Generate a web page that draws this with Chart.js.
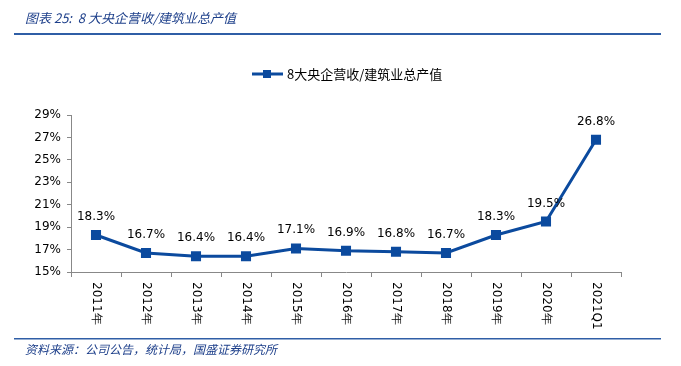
<!DOCTYPE html>
<html>
<head>
<meta charset="utf-8">
<script src="https://cdn.jsdelivr.net/npm/chart.js@4.4.1/dist/chart.umd.min.js"></script>
<style>
  html, body { margin: 0; padding: 0; background: #fff; }
  #wrap { position: relative; width: 681px; height: 366px; }
</style>
</head>
<body>
<div id="wrap"><canvas id="c" width="681" height="366"></canvas></div>
<script>
// 数据
const categories = ['2011年', '2012年', '2013年', '2014年', '2015年', '2016年', '2017年', '2018年', '2019年', '2020年', '2021Q1'];
const ratioValues = [18.3, 16.7, 16.4, 16.4, 17.1, 16.9, 16.8, 16.7, 18.3, 19.5, 26.8];
const seriesName = '8大央企营收/建筑业总产值';
const yTicks = [15, 17, 19, 21, 23, 25, 27, 29];
const titleText = '图表 25:  8 大央企营收/建筑业总产值';
const sourceText = '资料来源：公司公告，统计局，国盛证券研究所';

const blue = '#0b4a9e';
const font = '"DejaVu Sans", Verdana, sans-serif';

// 标题、图例、数据标签、竖排x轴标签
const decorations = {
  id: 'decorations',
  afterDraw(chart) {
    const ctx = chart.ctx;
    const xs = chart.scales.x;
    const ys = chart.scales.y;
    ctx.save();

    // 标题
    ctx.fillStyle = '#1d3f8a';
    ctx.font = 'italic 13px "Noto Sans CJK SC", sans-serif';
    ctx.textBaseline = 'middle';
    ctx.textAlign = 'left';
    ctx.fillText(titleText, 25, 18);
    ctx.fillStyle = '#2f5ea6';
    ctx.fillRect(14, 33, 647, 2);

    // 来源
    ctx.fillRect(14, 338, 647, 1.5);
    ctx.fillStyle = '#1d3f8a';
    ctx.font = 'italic 12px "Noto Sans CJK SC", sans-serif';
    ctx.fillText(sourceText, 25, 349);

    // 图例
    const lx = 252, ly = 74;
    ctx.strokeStyle = blue;
    ctx.lineWidth = 3;
    ctx.beginPath();
    ctx.moveTo(lx, ly);
    ctx.lineTo(lx + 31, ly);
    ctx.stroke();
    ctx.fillStyle = blue;
    ctx.fillRect(lx + 11, ly - 4, 8, 8);
    ctx.fillStyle = '#000';
    ctx.font = '13px "Noto Sans CJK SC", sans-serif';
    ctx.fillText(seriesName, lx + 35, ly);

    // 数据标签
    ctx.font = '12px ' + font;
    ctx.textAlign = 'center';
    ctx.textBaseline = 'alphabetic';
    ratioValues.forEach((v, i) => {
      const x = xs.getPixelForValue(i);
      const y = ys.getPixelForValue(v);
      ctx.fillText(v.toFixed(1) + '%', x, y - 15);
    });

    // x轴标签（顺时针旋转90度）
    ctx.font = '12px ' + font;
    ctx.textAlign = 'left';
    ctx.textBaseline = 'middle';
    categories.forEach((c, i) => {
      const x = xs.getPixelForValue(i);
      ctx.save();
      ctx.translate(x, xs.top + 10);
      ctx.rotate(Math.PI / 2);
      ctx.fillText(c, 0, 0);
      ctx.restore();
    });
    ctx.restore();
  }
};

new Chart(document.getElementById('c'), {
  type: 'line',
  data: {
    labels: categories,
    datasets: [{
      label: seriesName,
      data: ratioValues,
      borderColor: blue,
      backgroundColor: blue,
      borderWidth: 3,
      pointStyle: 'rect',
      pointRadius: 5,
      pointHoverRadius: 5,
      tension: 0
    }]
  },
  options: {
    responsive: false,
    animation: false,
    layout: { padding: { left: 0, right: 60, top: 115, bottom: 0 } },
    plugins: { legend: { display: false }, tooltip: { enabled: false } },
    scales: {
      x: {
        offset: true,
        grid: { offset: true, drawOnChartArea: false, color: '#888', tickLength: 5 },
        border: { color: '#888' },
        ticks: { display: false },
        afterFit(scale) { scale.height = 94; }
      },
      y: {
        min: 15,
        max: 29,
        afterBuildTicks(scale) { scale.ticks = yTicks.map(v => ({ value: v })); },
        grid: { drawOnChartArea: false, color: '#888', tickLength: 4 },
        border: { color: '#888' },
        ticks: {
          color: '#000',
          font: { family: font, size: 12 },
          padding: 6,
          callback: v => v + '%'
        },
        afterFit(scale) { scale.width = 71; }
      }
    }
  },
  plugins: [decorations]
});
</script>
</body>
</html>
